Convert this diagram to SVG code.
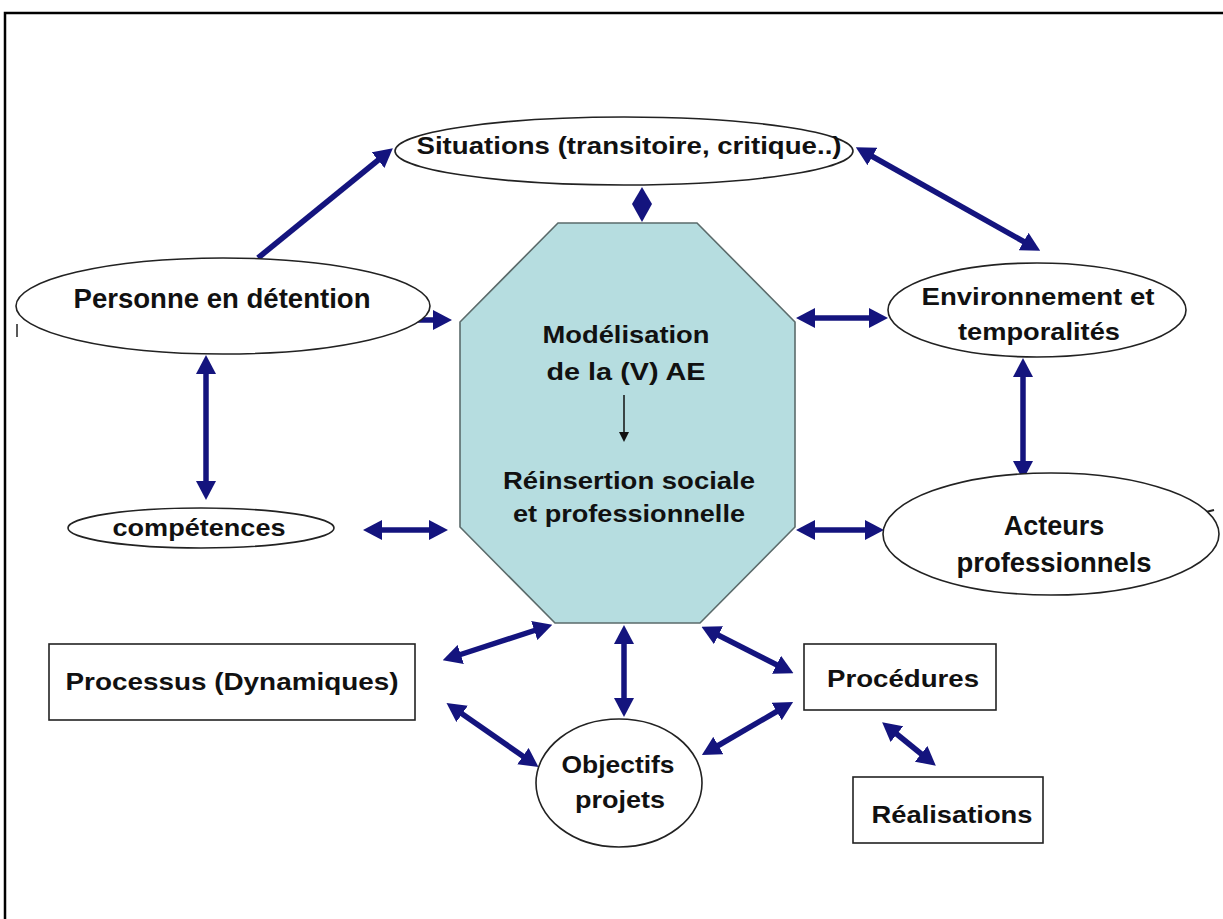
<svg xmlns="http://www.w3.org/2000/svg" width="1223" height="919" viewBox="0 0 1223 919">
<style>
.frame{stroke:#000;stroke-width:2.5;fill:none}
.node{fill:#fff;stroke:#222;stroke-width:1.6}
.oct{fill:#b6dde0;stroke:#5b6b6b;stroke-width:1.6}
.c{stroke:#14147e;stroke-width:5.5;fill:none}
.t{font-family:"Liberation Sans",Arial,sans-serif;font-weight:bold;fill:#111;text-anchor:middle}
.px{font-size:24px}
.big{font-size:27px}
</style>
<defs>
<marker id="ah" viewBox="0 0 19 20" markerUnits="userSpaceOnUse" markerWidth="19" markerHeight="20" refX="5" refY="10" orient="auto-start-reverse">
<path d="M0,0 L19,10 L0,20 z" fill="#14147e"/>
</marker>
</defs>
<rect width="1223" height="919" fill="#fff"/>
<path class="frame" d="M5,919 L5,13 L1223,13"/>
<g id="connectors">
<line class="c" x1="258" y1="258" x2="382" y2="157" marker-end="url(#ah)"/>
<line class="c" x1="415" y1="320" x2="438" y2="320" marker-end="url(#ah)"/>
<line class="c" x1="206" y1="369" x2="206" y2="486" marker-start="url(#ah)" marker-end="url(#ah)"/>
<line class="c" x1="377" y1="530" x2="434" y2="530" marker-start="url(#ah)" marker-end="url(#ah)"/>
<polygon points="642,187 652,204 642,222 632,204" fill="#14147e"/>
<line class="c" x1="868" y1="154" x2="1028" y2="244" marker-start="url(#ah)" marker-end="url(#ah)"/>
<line class="c" x1="810" y1="318" x2="874" y2="318" marker-start="url(#ah)" marker-end="url(#ah)"/>
<line class="c" x1="1023" y1="372" x2="1023" y2="466" marker-start="url(#ah)" marker-end="url(#ah)"/>
<line class="c" x1="810" y1="530" x2="870" y2="530" marker-start="url(#ah)" marker-end="url(#ah)"/>
<line class="c" x1="456" y1="656" x2="539" y2="629" marker-start="url(#ah)" marker-end="url(#ah)"/>
<line class="c" x1="458" y1="711" x2="527" y2="759" marker-start="url(#ah)" marker-end="url(#ah)"/>
<line class="c" x1="624" y1="639" x2="624" y2="703" marker-start="url(#ah)" marker-end="url(#ah)"/>
<line class="c" x1="714" y1="633" x2="781" y2="667" marker-start="url(#ah)" marker-end="url(#ah)"/>
<line class="c" x1="714" y1="748" x2="781" y2="709" marker-start="url(#ah)" marker-end="url(#ah)"/>
<line class="c" x1="893" y1="731" x2="925" y2="757" marker-start="url(#ah)" marker-end="url(#ah)"/>
</g>
<g id="situations">
<ellipse class="node" cx="624" cy="151" rx="229" ry="34"/>
<text class="t px" x="629" y="154" textLength="425" lengthAdjust="spacingAndGlyphs">Situations (transitoire, critique..)</text>
</g>
<g id="octagone">
<polygon class="oct" points="558,223 697,223 795,322 795,527 700,623 555,623 460,527 460,322"/>
<text class="t px" x="626" y="343" textLength="167" lengthAdjust="spacingAndGlyphs">Modélisation</text>
<text class="t px" x="626" y="380" textLength="159" lengthAdjust="spacingAndGlyphs">de la (V) AE</text>
<line x1="624" y1="395" x2="624" y2="434" stroke="#111" stroke-width="1.5"/>
<path d="M619,432 L624,442 L629,432 z" fill="#111"/>
<text class="t px" x="629" y="489" textLength="252" lengthAdjust="spacingAndGlyphs">Réinsertion sociale</text>
<text class="t px" x="629" y="522" textLength="232" lengthAdjust="spacingAndGlyphs">et professionnelle</text>
</g>
<g id="personne">
<ellipse class="node" cx="223" cy="306" rx="207" ry="48"/>
<line x1="17" y1="324" x2="17" y2="337" stroke="#222" stroke-width="1.5"/>
<text class="t big" x="222" y="308" textLength="297" lengthAdjust="spacingAndGlyphs">Personne en détention</text>
</g>
<g id="competences">
<ellipse class="node" cx="201" cy="528" rx="133" ry="20"/>
<text class="t px" x="199" y="536" textLength="173" lengthAdjust="spacingAndGlyphs">compétences</text>
</g>
<g id="environnement">
<ellipse class="node" cx="1037" cy="310" rx="149" ry="47"/>
<text class="t px" x="1038" y="305" textLength="233" lengthAdjust="spacingAndGlyphs">Environnement et</text>
<text class="t px" x="1039" y="340" textLength="162" lengthAdjust="spacingAndGlyphs">temporalités</text>
</g>
<g id="acteurs">
<line x1="1206" y1="512" x2="1214" y2="510" stroke="#222" stroke-width="2"/>
<ellipse class="node" cx="1051" cy="534" rx="168" ry="61" stroke-width="2"/>
<text class="t big" x="1054" y="535">Acteurs</text>
<text class="t big" x="1054" y="572" textLength="195" lengthAdjust="spacingAndGlyphs">professionnels</text>
</g>
<g id="processus">
<rect class="node" x="49" y="644" width="366" height="76"/>
<text class="t px" x="232" y="690" textLength="333" lengthAdjust="spacingAndGlyphs">Processus (Dynamiques)</text>
</g>
<g id="objectifs">
<ellipse class="node" cx="619" cy="783" rx="83" ry="64"/>
<text class="t px" x="618" y="773" textLength="113" lengthAdjust="spacingAndGlyphs">Objectifs</text>
<text class="t px" x="620" y="808" textLength="90" lengthAdjust="spacingAndGlyphs">projets</text>
</g>
<g id="procedures">
<rect class="node" x="804" y="644" width="192" height="66"/>
<text class="t px" x="903" y="687" textLength="152" lengthAdjust="spacingAndGlyphs">Procédures</text>
</g>
<g id="realisations">
<rect class="node" x="853" y="777" width="190" height="66"/>
<text class="t px" x="952" y="823" textLength="161" lengthAdjust="spacingAndGlyphs">Réalisations</text>
</g>
</svg>
